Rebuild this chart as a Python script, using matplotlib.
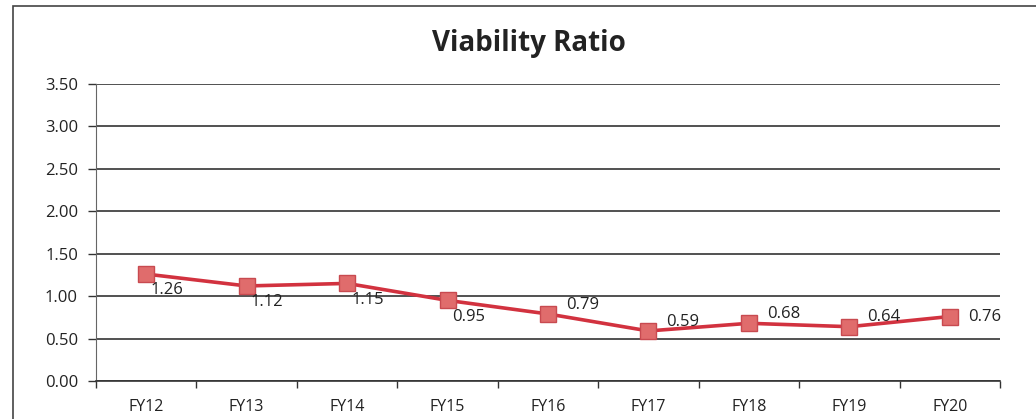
import matplotlib
matplotlib.use("Agg")
import matplotlib.pyplot as plt
from matplotlib.patches import Rectangle

# --- data ---
years = ["FY12", "FY13", "FY14", "FY15", "FY16", "FY17", "FY18", "FY19", "FY20"]
ratio = [1.26, 1.12, 1.15, 0.95, 0.79, 0.59, 0.68, 0.64, 0.76]
# label placement: below-right or above-right or right
label_pos = ["below", "below", "below", "below", "above", "above", "above", "above", "right"]

plt.rcParams["font.family"] = ["Open Sans", "DejaVu Sans"]

fig = plt.figure(figsize=(10.36, 4.19), dpi=100)
ax = fig.add_axes([96 / 1036, 38 / 419, 904 / 1036, 297 / 419])

# outer chart frame
fig.patches.append(Rectangle((13 / 1036, -0.1), 1.2, 1.1 - 6 / 419,
                             transform=fig.transFigure, fill=False,
                             edgecolor="#444444", linewidth=1.2))

x = list(range(len(years)))
ax.plot(x, ratio, color="#d2323f", linewidth=2.6, marker="s", markersize=11.5,
        markerfacecolor="#e06c6c", markeredgecolor="#c84a50", markeredgewidth=1.0,
        zorder=3)

for xi, v, pos in zip(x, ratio, label_pos):
    if pos == "below":
        ax.annotate(f"{v:.2f}", (xi, v), xytext=(3, -6), textcoords="offset points",
                    ha="left", va="top", fontsize=12, color="#222222")
    elif pos == "above":
        ax.annotate(f"{v:.2f}", (xi, v), xytext=(13, 1), textcoords="offset points",
                    ha="left", va="bottom", fontsize=12, color="#222222")
    else:
        ax.annotate(f"{v:.2f}", (xi, v), xytext=(13, 0), textcoords="offset points",
                    ha="left", va="center", fontsize=12, color="#222222")

ax.set_xlim(-0.5, len(years) - 0.5)
ax.set_ylim(0, 3.5)
ax.set_yticks([0, 0.5, 1.0, 1.5, 2.0, 2.5, 3.0, 3.5])
ax.set_yticklabels([f"{t:.2f}" for t in ax.get_yticks()], fontsize=12, color="#222222")
ax.set_xticks(x)
ax.set_xticklabels(years, fontsize=11.5, color="#222222")
ax.tick_params(axis="x", length=0, pad=13)
ax.set_xticks([i - 0.5 for i in range(len(years) + 1)], minor=True)
ax.tick_params(axis="x", which="minor", length=5, color="#333333", width=1)
ax.tick_params(axis="y", length=6, color="#333333", width=1, pad=7)

ax.grid(axis="y", color="#333333", linewidth=1.2)
ax.set_axisbelow(True)
for side in ["top", "right"]:
    ax.spines[side].set_visible(False)
ax.spines["left"].set_color("#666666")
ax.spines["bottom"].set_color("#333333")
ax.spines["bottom"].set_linewidth(1.2)

fig.text(529 / 1036, 1 - 43 / 419, "Viability Ratio", ha="center", va="center",
         fontsize=20, fontweight="bold", color="#222222")

fig.savefig("out.png", dpi=100)
